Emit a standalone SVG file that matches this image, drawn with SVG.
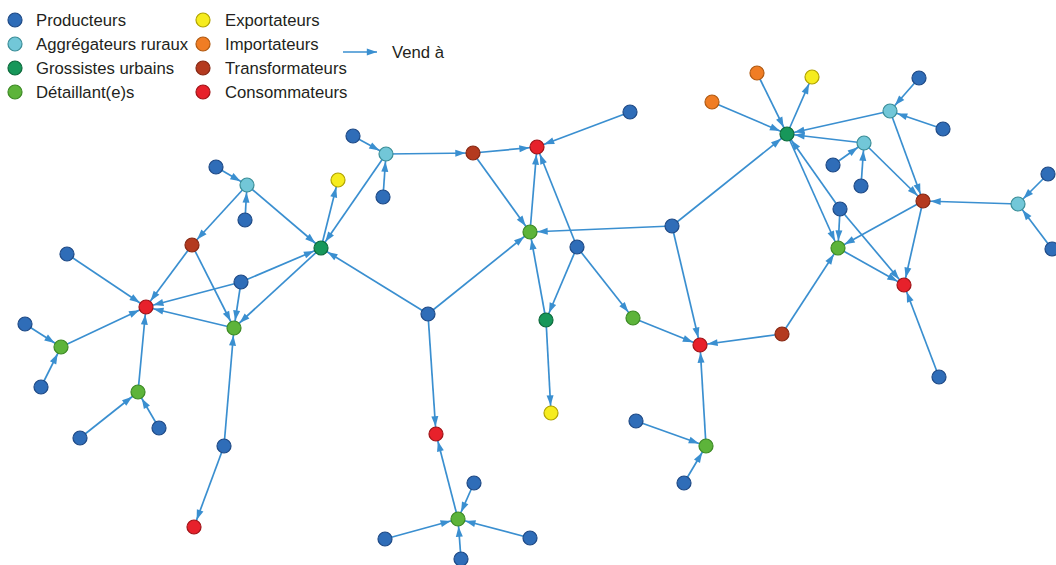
<svg xmlns="http://www.w3.org/2000/svg" width="1056" height="565" viewBox="0 0 1056 565">
<defs>
<style>
.bg{fill:#ffffff}
.e line,line.e{stroke:#3a8fd0;stroke-width:1.7;fill:none}
.n{stroke-width:1.2}
.pr{fill:#2f6db8;stroke:#1f4a86}
.ag{fill:#72c7d8;stroke:#3b8e98}
.gr{fill:#17975a;stroke:#0d6a3c}
.de{fill:#5db43a;stroke:#3d8a25}
.ex{fill:#f6ec1e;stroke:#b1a300}
.im{fill:#f07d24;stroke:#b05a12}
.tr{fill:#b43a1f;stroke:#862814}
.co{fill:#e7212b;stroke:#a01418}
.lt{font-family:"Liberation Sans",Arial,sans-serif;font-size:16.7px;fill:#231f20}
</style>
<marker id="arr" markerUnits="userSpaceOnUse" viewBox="0 0 20 8" markerWidth="20" markerHeight="8" refX="18.5" refY="4" orient="auto"><path d="M0.8 0.5 L11 4 L0.8 7.5 z" fill="#3a8fd0"/></marker>
<marker id="arrL" markerUnits="userSpaceOnUse" viewBox="0 0 12 8" markerWidth="12" markerHeight="8" refX="11" refY="4" orient="auto"><path d="M0.8 0.5 L11 4 L0.8 7.5 z" fill="#3a8fd0"/></marker>
</defs>
<rect class="bg" x="0" y="0" width="1056" height="565"/>

<g id="legend">
<circle class="n pr" cx="15" cy="20" r="7"/><text class="lt" x="36" y="26">Producteurs</text>
<circle class="n ag" cx="15" cy="44" r="7"/><text class="lt" x="36" y="50">Aggrégateurs ruraux</text>
<circle class="n gr" cx="15" cy="68" r="7"/><text class="lt" x="36" y="74">Grossistes urbains</text>
<circle class="n de" cx="15" cy="92" r="7"/><text class="lt" x="36" y="98">Détaillant(e)s</text>
<circle class="n ex" cx="203" cy="20" r="7"/><text class="lt" x="225" y="26">Exportateurs</text>
<circle class="n im" cx="203" cy="44" r="7"/><text class="lt" x="225" y="50">Importateurs</text>
<circle class="n tr" cx="203" cy="68" r="7"/><text class="lt" x="225" y="74">Transformateurs</text>
<circle class="n co" cx="203" cy="92" r="7"/><text class="lt" x="225" y="98">Consommateurs</text>
<line class="e" x1="343" y1="52" x2="377" y2="52" marker-end="url(#arrL)"/>
<text class="lt" x="392" y="58">Vend à</text>
</g>

<g id="connectors" class="e">
<line x1="216" y1="167" x2="247" y2="185" marker-end="url(#arr)"/>
<line x1="245" y1="220" x2="247" y2="185" marker-end="url(#arr)"/>
<line x1="247" y1="185" x2="192" y2="245" marker-end="url(#arr)"/>
<line x1="247" y1="185" x2="321" y2="248" marker-end="url(#arr)"/>
<line x1="67" y1="254" x2="146" y2="307" marker-end="url(#arr)"/>
<line x1="192" y1="245" x2="146" y2="307" marker-end="url(#arr)"/>
<line x1="192" y1="245" x2="234" y2="328" marker-end="url(#arr)"/>
<line x1="241" y1="282" x2="146" y2="307" marker-end="url(#arr)"/>
<line x1="241" y1="282" x2="234" y2="328" marker-end="url(#arr)"/>
<line x1="241" y1="282" x2="321" y2="248" marker-end="url(#arr)"/>
<line x1="321" y1="248" x2="234" y2="328" marker-end="url(#arr)"/>
<line x1="234" y1="328" x2="146" y2="307" marker-end="url(#arr)"/>
<line x1="61" y1="347" x2="146" y2="307" marker-end="url(#arr)"/>
<line x1="25" y1="324" x2="61" y2="347" marker-end="url(#arr)"/>
<line x1="41" y1="387" x2="61" y2="347" marker-end="url(#arr)"/>
<line x1="138" y1="392" x2="146" y2="307" marker-end="url(#arr)"/>
<line x1="80" y1="438" x2="138" y2="392" marker-end="url(#arr)"/>
<line x1="159" y1="428" x2="138" y2="392" marker-end="url(#arr)"/>
<line x1="224" y1="446" x2="234" y2="328" marker-end="url(#arr)"/>
<line x1="224" y1="446" x2="194" y2="527" marker-end="url(#arr)"/>
<line x1="321" y1="248" x2="338" y2="180" marker-end="url(#arr)"/>
<line x1="353" y1="136" x2="386" y2="154" marker-end="url(#arr)"/>
<line x1="383" y1="197" x2="386" y2="154" marker-end="url(#arr)"/>
<line x1="386" y1="154" x2="321" y2="248" marker-end="url(#arr)"/>
<line x1="386" y1="154" x2="473" y2="153" marker-end="url(#arr)"/>
<line x1="473" y1="153" x2="537" y2="147" marker-end="url(#arr)"/>
<line x1="630" y1="112" x2="537" y2="147" marker-end="url(#arr)"/>
<line x1="473" y1="153" x2="530" y2="232" marker-end="url(#arr)"/>
<line x1="530" y1="232" x2="537" y2="147" marker-end="url(#arr)"/>
<line x1="428" y1="314" x2="321" y2="248" marker-end="url(#arr)"/>
<line x1="428" y1="314" x2="530" y2="232" marker-end="url(#arr)"/>
<line x1="428" y1="314" x2="436" y2="434" marker-end="url(#arr)"/>
<line x1="577" y1="247" x2="537" y2="147" marker-end="url(#arr)"/>
<line x1="577" y1="247" x2="546" y2="320" marker-end="url(#arr)"/>
<line x1="577" y1="247" x2="633" y2="318" marker-end="url(#arr)"/>
<line x1="546" y1="320" x2="530" y2="232" marker-end="url(#arr)"/>
<line x1="546" y1="320" x2="551" y2="413" marker-end="url(#arr)"/>
<line x1="672" y1="226" x2="530" y2="232" marker-end="url(#arr)"/>
<line x1="672" y1="226" x2="787" y2="134" marker-end="url(#arr)"/>
<line x1="672" y1="226" x2="700" y2="345" marker-end="url(#arr)"/>
<line x1="633" y1="318" x2="700" y2="345" marker-end="url(#arr)"/>
<line x1="782" y1="334" x2="700" y2="345" marker-end="url(#arr)"/>
<line x1="706" y1="446" x2="700" y2="345" marker-end="url(#arr)"/>
<line x1="636" y1="421" x2="706" y2="446" marker-end="url(#arr)"/>
<line x1="684" y1="483" x2="706" y2="446" marker-end="url(#arr)"/>
<line x1="782" y1="334" x2="838" y2="248" marker-end="url(#arr)"/>
<line x1="458" y1="519" x2="436" y2="434" marker-end="url(#arr)"/>
<line x1="474" y1="483" x2="458" y2="519" marker-end="url(#arr)"/>
<line x1="385" y1="539" x2="458" y2="519" marker-end="url(#arr)"/>
<line x1="530" y1="538" x2="458" y2="519" marker-end="url(#arr)"/>
<line x1="461" y1="559" x2="458" y2="519" marker-end="url(#arr)"/>
<line x1="757" y1="73" x2="787" y2="134" marker-end="url(#arr)"/>
<line x1="787" y1="134" x2="812" y2="77" marker-end="url(#arr)"/>
<line x1="712" y1="102" x2="787" y2="134" marker-end="url(#arr)"/>
<line x1="919" y1="78" x2="890" y2="111" marker-end="url(#arr)"/>
<line x1="943" y1="129" x2="890" y2="111" marker-end="url(#arr)"/>
<line x1="890" y1="111" x2="787" y2="134" marker-end="url(#arr)"/>
<line x1="864" y1="143" x2="787" y2="134" marker-end="url(#arr)"/>
<line x1="833" y1="165" x2="864" y2="143" marker-end="url(#arr)"/>
<line x1="861" y1="186" x2="864" y2="143" marker-end="url(#arr)"/>
<line x1="864" y1="143" x2="923" y2="201" marker-end="url(#arr)"/>
<line x1="890" y1="111" x2="923" y2="201" marker-end="url(#arr)"/>
<line x1="1018" y1="204" x2="923" y2="201" marker-end="url(#arr)"/>
<line x1="1048" y1="174" x2="1018" y2="204" marker-end="url(#arr)"/>
<line x1="1052" y1="249" x2="1018" y2="204" marker-end="url(#arr)"/>
<line x1="923" y1="201" x2="838" y2="248" marker-end="url(#arr)"/>
<line x1="923" y1="201" x2="904" y2="285" marker-end="url(#arr)"/>
<line x1="840" y1="209" x2="838" y2="248" marker-end="url(#arr)"/>
<line x1="840" y1="209" x2="904" y2="285" marker-end="url(#arr)"/>
<line x1="840" y1="209" x2="787" y2="134" marker-end="url(#arr)"/>
<line x1="787" y1="134" x2="838" y2="248" marker-end="url(#arr)"/>
<line x1="838" y1="248" x2="904" y2="285" marker-end="url(#arr)"/>
<line x1="939" y1="377" x2="904" y2="285" marker-end="url(#arr)"/>
</g>

<g id="p1"><circle class="n pr" cx="216" cy="167" r="7"/></g>
<g id="p2"><circle class="n pr" cx="245" cy="220" r="7"/></g>
<g id="a1"><circle class="n ag" cx="247" cy="185" r="7"/></g>
<g id="t1"><circle class="n tr" cx="192" cy="245" r="7"/></g>
<g id="g1"><circle class="n gr" cx="321" cy="248" r="7"/></g>
<g id="p3"><circle class="n pr" cx="67" cy="254" r="7"/></g>
<g id="c1"><circle class="n co" cx="146" cy="307" r="7"/></g>
<g id="p4"><circle class="n pr" cx="241" cy="282" r="7"/></g>
<g id="d1"><circle class="n de" cx="234" cy="328" r="7"/></g>
<g id="p5"><circle class="n pr" cx="25" cy="324" r="7"/></g>
<g id="d2"><circle class="n de" cx="61" cy="347" r="7"/></g>
<g id="p6"><circle class="n pr" cx="41" cy="387" r="7"/></g>
<g id="d3"><circle class="n de" cx="138" cy="392" r="7"/></g>
<g id="p7"><circle class="n pr" cx="80" cy="438" r="7"/></g>
<g id="p8"><circle class="n pr" cx="159" cy="428" r="7"/></g>
<g id="p9"><circle class="n pr" cx="224" cy="446" r="7"/></g>
<g id="c6"><circle class="n co" cx="194" cy="527" r="7"/></g>
<g id="e1"><circle class="n ex" cx="338" cy="180" r="7"/></g>
<g id="p10"><circle class="n pr" cx="353" cy="136" r="7"/></g>
<g id="p11"><circle class="n pr" cx="383" cy="197" r="7"/></g>
<g id="a2"><circle class="n ag" cx="386" cy="154" r="7"/></g>
<g id="t2"><circle class="n tr" cx="473" cy="153" r="7"/></g>
<g id="c2"><circle class="n co" cx="537" cy="147" r="7"/></g>
<g id="p12"><circle class="n pr" cx="630" cy="112" r="7"/></g>
<g id="d4"><circle class="n de" cx="530" cy="232" r="7"/></g>
<g id="p13"><circle class="n pr" cx="428" cy="314" r="7"/></g>
<g id="c3"><circle class="n co" cx="436" cy="434" r="7"/></g>
<g id="p14"><circle class="n pr" cx="577" cy="247" r="7"/></g>
<g id="g2"><circle class="n gr" cx="546" cy="320" r="7"/></g>
<g id="e2"><circle class="n ex" cx="551" cy="413" r="7"/></g>
<g id="d5"><circle class="n de" cx="633" cy="318" r="7"/></g>
<g id="p15"><circle class="n pr" cx="672" cy="226" r="7"/></g>
<g id="c4"><circle class="n co" cx="700" cy="345" r="7"/></g>
<g id="t3"><circle class="n tr" cx="782" cy="334" r="7"/></g>
<g id="d6"><circle class="n de" cx="706" cy="446" r="7"/></g>
<g id="p16"><circle class="n pr" cx="636" cy="421" r="7"/></g>
<g id="p17"><circle class="n pr" cx="684" cy="483" r="7"/></g>
<g id="d8"><circle class="n de" cx="458" cy="519" r="7"/></g>
<g id="p18"><circle class="n pr" cx="474" cy="483" r="7"/></g>
<g id="p19"><circle class="n pr" cx="385" cy="539" r="7"/></g>
<g id="p20"><circle class="n pr" cx="530" cy="538" r="7"/></g>
<g id="p21"><circle class="n pr" cx="461" cy="559" r="7"/></g>
<g id="g3"><circle class="n gr" cx="787" cy="134" r="7"/></g>
<g id="i1"><circle class="n im" cx="757" cy="73" r="7"/></g>
<g id="i2"><circle class="n im" cx="712" cy="102" r="7"/></g>
<g id="e3"><circle class="n ex" cx="812" cy="77" r="7"/></g>
<g id="a3"><circle class="n ag" cx="890" cy="111" r="7"/></g>
<g id="p22"><circle class="n pr" cx="919" cy="78" r="7"/></g>
<g id="p23"><circle class="n pr" cx="943" cy="129" r="7"/></g>
<g id="a4"><circle class="n ag" cx="864" cy="143" r="7"/></g>
<g id="p24"><circle class="n pr" cx="833" cy="165" r="7"/></g>
<g id="p25"><circle class="n pr" cx="861" cy="186" r="7"/></g>
<g id="t4"><circle class="n tr" cx="923" cy="201" r="7"/></g>
<g id="a5"><circle class="n ag" cx="1018" cy="204" r="7"/></g>
<g id="p26"><circle class="n pr" cx="1048" cy="174" r="7"/></g>
<g id="p27"><circle class="n pr" cx="1052" cy="249" r="7"/></g>
<g id="p28"><circle class="n pr" cx="840" cy="209" r="7"/></g>
<g id="d7"><circle class="n de" cx="838" cy="248" r="7"/></g>
<g id="c5"><circle class="n co" cx="904" cy="285" r="7"/></g>
<g id="p29"><circle class="n pr" cx="939" cy="377" r="7"/></g>
</svg>
